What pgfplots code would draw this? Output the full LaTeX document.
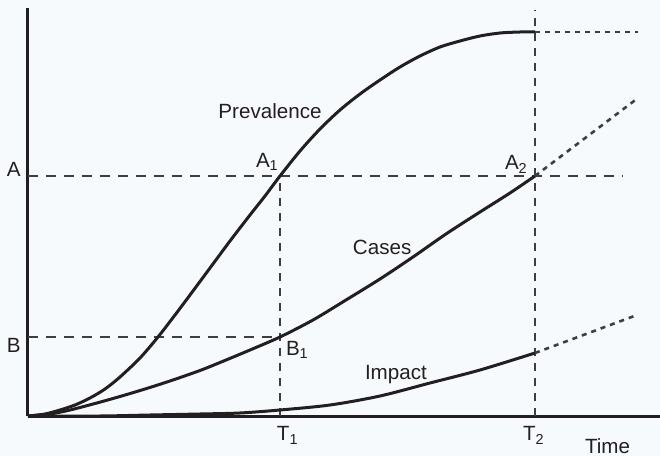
\documentclass[border=0pt]{standalone}
\usepackage{pgfplots}
\pgfplotsset{compat=1.18}
\usepackage{fontspec}
\setmainfont{Liberation Sans}
\definecolor{bg}{HTML}{F7FAFC}
\definecolor{curve}{HTML}{231F20}
\definecolor{guide}{HTML}{3E3E3E}
\tikzset{lab/.style={font=\fontsize{10.3}{12}\selectfont, text=curve, inner sep=0pt, outer sep=0pt}}
\begin{document}
\fontsize{10.3}{12}\selectfont
\begin{tikzpicture}
\fill[bg] (-14pt,-20pt) rectangle (316pt,208pt);
\begin{axis}[
  x=0.5pt, y=0.5pt,
  xmin=0, xmax=632, ymin=0, ymax=408,
  axis lines=left,
  axis line style={line width=1.5pt, color=curve, -},
  xtick=\empty, ytick=\empty,
  clip=false,
]
% guides
\addplot[guide, line width=1.3pt, dash pattern=on 5pt off 4pt] coordinates {(0,240) (595,240)};
\addplot[guide, line width=1.3pt, dash pattern=on 5pt off 4pt] coordinates {(0,79) (252,79)};
\addplot[guide, line width=1.3pt, dash pattern=on 4pt off 3.5pt] coordinates {(252,0) (252,240)};
\addplot[guide, line width=1.3pt, dash pattern=on 4pt off 3.5pt] coordinates {(507,0) (507,406)};
% Prevalence
\addplot[curve, line width=1.5pt, smooth, tension=0.5] coordinates {
(0,0) (17,2) (32,6) (47,11) (62,18) (77,27) (92,39) (112,58) (130,79) (147,101)
(162,121) (182,148) (202,175) (222,201) (237,220) (252,240) (272,265) (292,287)
(312,306) (332,322) (352,336) (372,349) (392,360) (412,369) (432,375) (452,380)
(472,383) (492,384) (507,384)};
\addplot[guide, line width=1.3pt, dash pattern=on 2.5pt off 2.5pt] coordinates {(507,384) (610,384)};
% Cases
\addplot[curve, line width=1.5pt, smooth, tension=0.5] coordinates {
(0,0) (22,2) (42,6) (67,12.5) (92,19.5) (117,27) (142,35) (172,45.5) (192,53.5) (222,66)
(252,79) (285,96) (318,116) (352,137) (385,159) (418,182) (452,204) (482,223) (507,240)};
\addplot[guide, line width=1.3pt, dash pattern=on 2.5pt off 2.5pt] coordinates {(507,240) (610,318)};
% Impact
\addplot[curve, line width=1.5pt, smooth, tension=0.5] coordinates {
(0,0) (72,0) (122,1) (172,2) (212,3) (252,6) (302,11) (352,20) (402,33) (452,46) (507,63)};
\addplot[guide, line width=1.3pt, dash pattern=on 2.5pt off 2.5pt] coordinates {(507,63) (609,101)};
% labels
\node[lab, anchor=base] at (axis cs:242,297) {Prevalence};
\node[lab, anchor=base west] at (axis cs:228,249) {A\textsubscript{1}};
\node[lab, anchor=base west] at (axis cs:477,246) {A\textsubscript{2}};
\node[lab, anchor=base west] at (axis cs:-21,239) {A};
\node[lab, anchor=base west] at (axis cs:-21,64) {B};
\node[lab, anchor=base west] at (axis cs:258,61) {B\textsubscript{1}};
\node[lab, anchor=base west] at (axis cs:249,-25) {T\textsubscript{1}};
\node[lab, anchor=base west] at (axis cs:495,-25) {T\textsubscript{2}};
\node[lab, anchor=base west] at (axis cs:557,-37) {Time};
\node[lab, anchor=base west] at (axis cs:325,162) {Cases};
\node[lab, anchor=base west] at (axis cs:337,37) {Impact};
\coordinate (bl) at (axis cs:-28,-40);
\coordinate (tr) at (axis cs:632,416);
\end{axis}
\pgfresetboundingbox
\path (bl) rectangle (tr);
\end{tikzpicture}
\end{document}
